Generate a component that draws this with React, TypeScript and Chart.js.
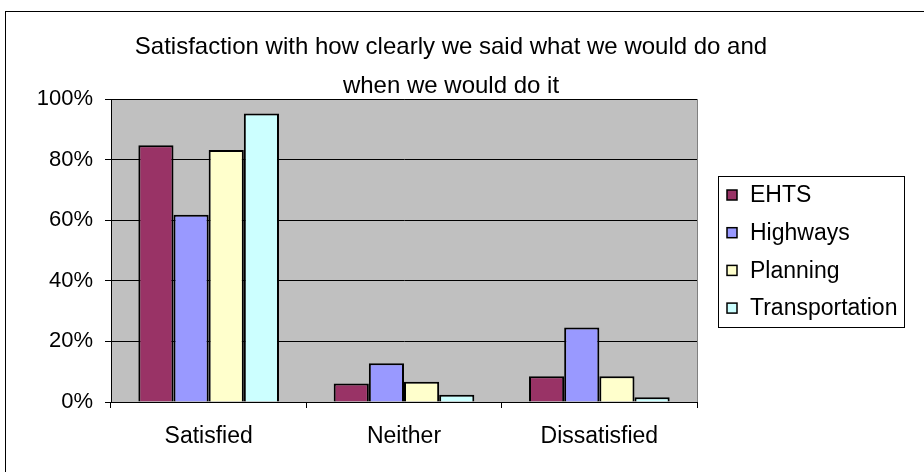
import React, { useEffect, useRef } from "react";
import { Chart, registerables } from "chart.js";

Chart.register(...registerables);

const TITLE_LINES = [
  "Satisfaction with how clearly we said what we would do and",
  "when we would do it",
];
const CATEGORIES = ["Satisfied", "Neither", "Dissatisfied"];
const EHTS = [84.7, 6.1, 8.5];
const HIGHWAYS = [61.8, 12.8, 24.6];
const PLANNING = [83.2, 6.7, 8.5];
const TRANSPORTATION = [95.2, 2.4, 1.6];
const SERIES_NAMES = ["EHTS", "Highways", "Planning", "Transportation"];
const SERIES_COLORS = ["#993366", "#9999FF", "#FFFFCC", "#CCFFFF"];
const Y_TICKS = [0, 20, 40, 60, 80, 100];

const FONT = "'Liberation Sans', Arial, sans-serif";

const decorPlugin = {
  id: "decor",
  beforeDraw(chart: any) {
    const { ctx, chartArea } = chart;
    ctx.save();
    ctx.fillStyle = "#ffffff";
    ctx.fillRect(0, 0, chart.width, chart.height);
    ctx.strokeStyle = "#000";
    ctx.lineWidth = 1;
    ctx.strokeRect(5.5, 11.5, chart.width + 10, chart.height + 10);
    ctx.fillStyle = "#C0C0C0";
    ctx.fillRect(chartArea.left, chartArea.top, chartArea.right - chartArea.left, chartArea.bottom - chartArea.top);
    ctx.strokeStyle = "#808080";
    ctx.strokeRect(chartArea.left + 0.5, chartArea.top + 0.5, chartArea.right - chartArea.left, chartArea.bottom - chartArea.top);
    ctx.restore();
  },
  afterDraw(chart: any) {
    const { ctx } = chart;
    ctx.save();
    ctx.fillStyle = "#000";
    ctx.font = `24px ${FONT}`;
    ctx.textAlign = "center";
    ctx.textBaseline = "middle";
    const cx = 451;
    TITLE_LINES.forEach((t, i) => ctx.fillText(t, cx, 47 + i * 39));
    const lx = 718, ly = 176, lw = 186, lh = 151;
    ctx.fillStyle = "#fff";
    ctx.fillRect(lx, ly, lw, lh);
    ctx.strokeStyle = "#000";
    ctx.lineWidth = 1;
    ctx.strokeRect(lx + 0.5, ly + 0.5, lw, lh);
    ctx.textAlign = "left";
    ctx.font = `23px ${FONT}`;
    chart.data.datasets.forEach((ds: any, i: number) => {
      const y = 195 + i * 37.7;
      ctx.fillStyle = ds.backgroundColor;
      ctx.fillRect(727, y - 5, 10, 10);
      ctx.strokeStyle = "#000";
      ctx.lineWidth = 1.5;
      ctx.strokeRect(727, y - 5, 10, 10);
      ctx.fillStyle = "#000";
      ctx.fillText(ds.label, 750, y + 1);
    });
    ctx.restore();
  },
};

export default function App() {
  const ref = useRef<HTMLCanvasElement>(null);
  useEffect(() => {
    const chart = new Chart(ref.current!, {
      type: "bar",
      data: {
        labels: CATEGORIES,
        datasets: [EHTS, HIGHWAYS, PLANNING, TRANSPORTATION].map((d, i) => ({
          label: SERIES_NAMES[i],
          data: d,
          backgroundColor: SERIES_COLORS[i],
          borderColor: "#000",
          borderWidth: 2,
          barPercentage: 1,
          categoryPercentage: 0.72,
        })),
      },
      options: {
        animation: false,
        responsive: false,
        devicePixelRatio: 1,
        layout: { padding: { left: 5, top: 99, right: 227, bottom: 0 } },
        plugins: {
          legend: { display: false },
          title: { display: false },
          tooltip: { enabled: false },
        },
        scales: {
          x: {
            grid: { display: true, drawOnChartArea: false, offset: true, color: "#000", tickLength: 6 },
            border: { color: "#000", width: 1 },
            ticks: { color: "#000", font: { family: FONT, size: 23 }, padding: 15 },
            afterFit: (s: any) => { s.height = 70; },
          },
          y: {
            min: 0,
            max: 100,
            afterBuildTicks: (s: any) => { s.ticks = Y_TICKS.map((v) => ({ value: v })); },
            grid: { color: "#000", tickLength: 6 },
            border: { color: "#000", width: 1 },
            ticks: {
              color: "#000",
              font: { family: FONT, size: 22 },
              padding: 12,
              callback: (v: any) => `${v}%`,
            },
            afterFit: (s: any) => { s.width = 106; },
          },
        },
      },
      plugins: [decorPlugin],
    });
    return () => chart.destroy();
  }, []);
  return (
    <div style={{ position: "fixed", left: 0, top: 0, width: 924, height: 472 }}>
      <canvas ref={ref} width={924} height={472} style={{ display: "block", width: 924, height: 472 }} />
    </div>
  );
}
